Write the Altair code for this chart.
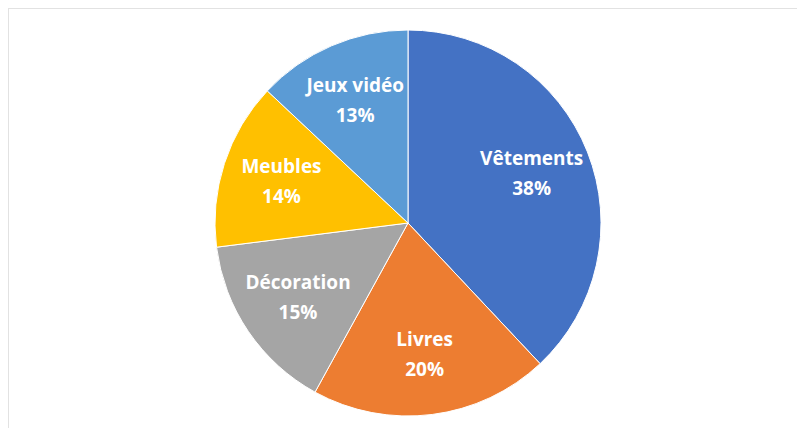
import altair as alt
import pandas as pd

categories = ["Vêtements", "Livres", "Décoration", "Meubles", "Jeux vidéo"]
values = [38, 20, 15, 14, 13]
colors = ["#4472C4", "#ED7D31", "#A5A5A5", "#FFC000", "#5B9BD5"]

df = pd.DataFrame({
    "cat": categories,
    "val": values,
    "ord": list(range(len(categories))),
})
df["label"] = df["cat"] + "\n" + df["val"].astype(str) + "%"

cx, cy = 400, 215

base = alt.Chart(df).encode(
    theta=alt.Theta("val:Q", stack=True),
    order=alt.Order("ord:Q"),
    x=alt.value(cx),
    y=alt.value(cy),
)

pie = base.mark_arc(outerRadius=193, stroke="white", strokeWidth=1).encode(
    color=alt.Color("cat:N", scale=alt.Scale(domain=categories, range=colors), legend=None)
)
text = base.mark_text(
    radius=133, dy=-15, font="Open Sans", fontWeight="bold", fontSize=19,
    lineBreak="\n", lineHeight=30, baseline="middle", align="center"
).encode(text="label:N", color=alt.value("white"))

frame = alt.Chart(pd.DataFrame({"a": [0]})).mark_rule(color="#e2e2e2", strokeWidth=2).encode(
    x=alt.value(0), x2=alt.value(789), y=alt.value(0)
) + alt.Chart(pd.DataFrame({"a": [0]})).mark_rule(color="#e2e2e2", strokeWidth=2).encode(
    x=alt.value(0), y=alt.value(0), y2=alt.value(420)
)

chart = (frame + pie + text).properties(
    width=789, height=420, padding=0, autosize=alt.AutoSizeParams(type="none"),
    background="white"
).configure_view(stroke=None)

chart.save("out.html", embed_options={"renderer": "svg", "actions": False})
